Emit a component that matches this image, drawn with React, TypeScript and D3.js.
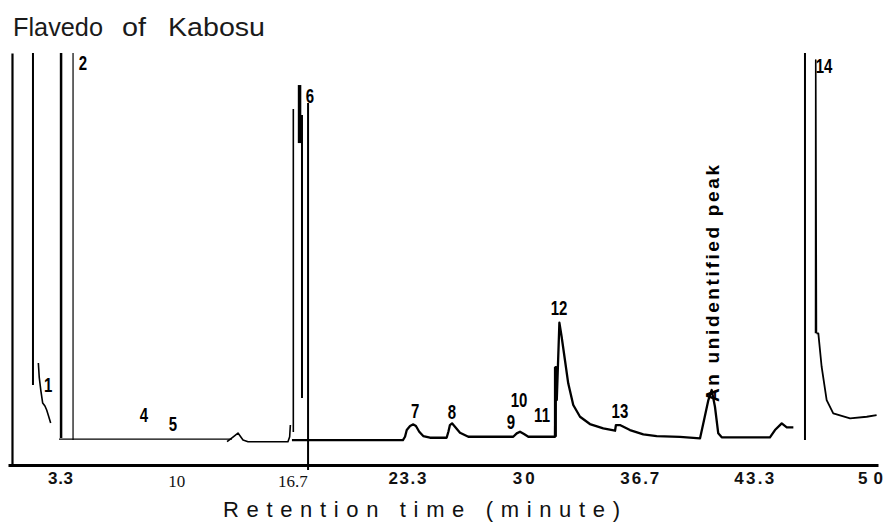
import React, { useEffect, useRef } from 'react';
import * as d3 from 'd3';

type Pt = [number, number];

// retention time (minute) vs recorder response (% of full scale)
const peak1Front: Pt[] = [[1.74, 100], [1.74, 13.76]];
const peak1Tail: Pt[] = [
    [2.05, 19.48], [2.10, 15.84], [2.19, 12.47], [2.30, 9.09],
    [2.43, 8.31], [2.53, 7.27], [2.62, 5.97], [2.76, 3.9],
];
const peak2Front: Pt[] = [[3.36, 100], [3.36, 0]];
const peak3Pen: Pt[] = [[4.05, 100], [4.05, -0.52]];
const earlyBaseline: Pt[] = [[3.24, -0.26], [13.21, -0.26]];
const earlyTrace: Pt[] = [
    [12.93, -0.96], [13.25, 0.2], [13.56, 1.3], [13.85, -0.52], [14.14, -0.96],
    [16.44, -0.96], [16.54, 0.34], [16.58, 3.4],
];
const peak6a: Pt[] = [[16.75, 85.44], [16.75, 1.56]];
const peak6b: Pt[] = [[17.11, 91.68], [17.11, 76.61]];
const peak6c: Pt[] = [[17.25, 83.88], [17.25, 10.39]];
const peak6d: Pt[] = [[17.6, 87.0], [17.6, -8.31]];
const peak11Pen: Pt[] = [[31.86, 0.34], [31.86, 18.44]];
const mainTrace: Pt[] = [
    [16.67, -0.52], [23.07, -0.52], [23.19, 0.34], [23.29, 2.08], [23.48, 3.12],
    [23.67, 3.56], [23.82, 3.12], [24.01, 1.64], [24.24, 0.52], [24.63, 0.08],
    [25.59, 0.08], [25.69, 1.64], [25.78, 3.38], [25.9, 3.82], [26.07, 2.93],
    [26.36, 1.38], [26.84, 0.34], [29.43, 0.34], [29.63, 1.22], [29.82, 1.64],
    [30.05, 1.04], [30.3, 0.34], [31.84, 0.34], [31.87, 18.44], [31.9, 18.44],
    [31.94, 9.87], [32.09, 29.94], [32.22, 26.31], [32.41, 20.26], [32.6, 14.21],
    [32.89, 8.57], [33.28, 5.53], [33.85, 3.64], [34.62, 2.52], [35.3, 1.9],
    [35.35, 3.38], [35.58, 3.38], [36.16, 2.08], [36.93, 0.96], [37.7, 0.52],
    [39.04, 0.3], [40.2, -0.08], [40.39, 3.82], [40.68, 9.87], [40.87, 12.47],
    [41.06, 8.13], [41.25, 1.22], [41.45, 0.18], [44.23, 0.18], [44.52, 2.08],
    [44.91, 3.82], [45.2, 2.78], [45.58, 2.78],
];
const peak14Front: Pt[] = [[46.25, 100], [46.25, -0.52]];
const peak14Pen: Pt[] = [[46.86, 27.19], [46.87, 98.17], [46.91, 27.19]];
const peak14Tail: Pt[] = [
    [46.91, 27.19], [47.02, 27.19], [47.21, 18.52], [47.5, 9.87], [47.88, 6.41],
    [48.85, 5.12], [49.81, 5.53], [50.38, 5.97],
];

const tickValues = [3.3, 10, 16.7, 23.3, 30, 36.7, 43.3, 50];
const tickLabels = ['3.3', '10', '16.7', '23.3', '30', '36.7', '43.3', '50'];

const peakNames = ['1', '2', '4', '5', '6', '7', '8', '9', '10', '11', '12', '13', '14'];
const peakNameTimes = [2.61, 4.62, 8.14, 9.81, 17.71, 23.77, 25.9, 29.3, 29.76, 31.09, 32.07, 35.58, 47.35];
const peakNameLevels = [11.95, 95.57, 4.16, 1.82, 87.0, 5.19, 4.93, 2.34, 8.05, 4.16, 31.95, 5.19, 94.8];

const unknownPeak = { text: 'An unidentified  peak', time: 41.29, level: 9.35 };

const Chromatogram = () => {
    const svgRef = useRef<SVGSVGElement>(null);
    const width = 890;
    const height = 527;

    useEffect(() => {
        const svg = d3.select(svgRef.current);
        svg.selectAll('*').remove();

        const x = d3.scaleLinear().domain([0.3, 50.46]).range([8, 878]);
        const y = d3.scaleLinear().domain([-7, 100]).range([465, 53]);
        const line = d3.line<Pt>().x(d => x(d[0])).y(d => y(d[1]));

        // pen strokes, with the width each one has on the chart paper
        const strokes: [Pt[], number][] = [
            [peak1Front, 2], [peak1Tail, 1.6], [peak2Front, 2.5], [peak3Pen, 1.2],
            [earlyBaseline, 1.2], [earlyTrace, 1.6], [peak6a, 1.6], [peak6b, 3.5],
            [peak6c, 2], [peak6d, 2], [mainTrace, 2.3], [peak11Pen, 3],
            [peak14Front, 2], [peak14Pen, 1.6], [peak14Tail, 1.8],
        ];
        svg.append('g')
            .attr('fill', 'none')
            .attr('stroke', '#000')
            .attr('stroke-linejoin', 'round')
            .selectAll('path')
            .data(strokes)
            .join('path')
            .attr('d', d => line(d[0]))
            .attr('stroke-width', d => d[1]);

        // left frame
        svg.append('g')
            .attr('transform', `translate(${x(0.53)},0)`)
            .call(d3.axisLeft(y).tickValues([]).tickSizeOuter(0))
            .call(g => g.select('.domain').attr('stroke-width', 2.2));

        // bottom axis, tick labels set in mixed type like the original
        const serif = new Set(['10', '16.7']);
        const labelWidth: Record<string, number> = { '3.3': 25, '23.3': 38, '30': 22, '36.7': 39, '43.3': 40, '50': 25 };
        svg.append('g')
            .attr('transform', `translate(0,${y(-7)})`)
            .call(d3.axisBottom(x).tickValues(tickValues).tickSize(0).tickSizeOuter(0)
                .tickFormat((d, i) => tickLabels[i]))
            .call(g => g.select('.domain').attr('stroke-width', 3))
            .call(g => g.selectAll('.tick text')
                .attr('dy', null)
                .attr('fill', '#111')
                .each(function (d, i) {
                    const t = d3.select(this);
                    const lab = tickLabels[i];
                    if (serif.has(lab)) {
                        t.attr('y', 22)
                            .attr('font-family', '"Liberation Serif", "Times New Roman", serif')
                            .attr('font-size', 17);
                    } else {
                        t.attr('y', 19)
                            .attr('font-family', '"Liberation Sans Narrow", "Liberation Sans", sans-serif')
                            .attr('font-weight', 'bold')
                            .attr('font-size', 17)
                            .attr('textLength', labelWidth[lab])
                            .attr('lengthAdjust', 'spacing');
                    }
                }));

        // axis title
        svg.append('text')
            .attr('x', 223)
            .attr('y', 517)
            .attr('font-family', '"Liberation Sans", Arial, sans-serif')
            .attr('font-size', 22)
            .attr('fill', '#111')
            .attr('textLength', 397)
            .attr('lengthAdjust', 'spacing')
            .text('Retention time (minute)');

        // chart title
        const title = svg.append('g')
            .attr('font-family', '"Liberation Sans", Arial, sans-serif')
            .attr('font-size', 26)
            .attr('fill', '#1a1a1a');
        [['Flavedo', 13, 90], ['of', 122, 24], ['Kabosu', 168, 97]].forEach(([w, px, len]) => {
            title.append('text')
                .attr('x', px as number)
                .attr('y', 36)
                .attr('textLength', len as number)
                .attr('lengthAdjust', 'spacingAndGlyphs')
                .text(w as string);
        });

        // peak numbers, narrow stencil-like digits
        svg.append('g')
            .attr('font-family', '"Liberation Sans", sans-serif')
            .attr('font-weight', 'bold')
            .attr('font-size', 20)
            .attr('text-anchor', 'middle')
            .selectAll('text')
            .data(peakNames)
            .join('text')
            .attr('transform', (d, i) => `translate(${x(peakNameTimes[i])},${y(peakNameLevels[i])}) scale(0.75,1)`)
            .text(d => d);

        // rotated note on the peak at ~41 min
        const ux = x(unknownPeak.time);
        const uy = y(unknownPeak.level);
        svg.append('text')
            .attr('transform', `translate(${ux},${uy}) rotate(-90)`)
            .attr('font-family', '"Liberation Sans", Arial, sans-serif')
            .attr('font-weight', 'bold')
            .attr('font-size', 19)
            .attr('textLength', 237)
            .attr('lengthAdjust', 'spacing')
            .text(unknownPeak.text);
    }, []);

    return (
        <svg ref={svgRef} width={width} height={height}
            style={{ position: 'absolute', left: 0, top: 0, background: '#fff' }} />
    );
};

export default function App() {
    return <Chromatogram />;
}
